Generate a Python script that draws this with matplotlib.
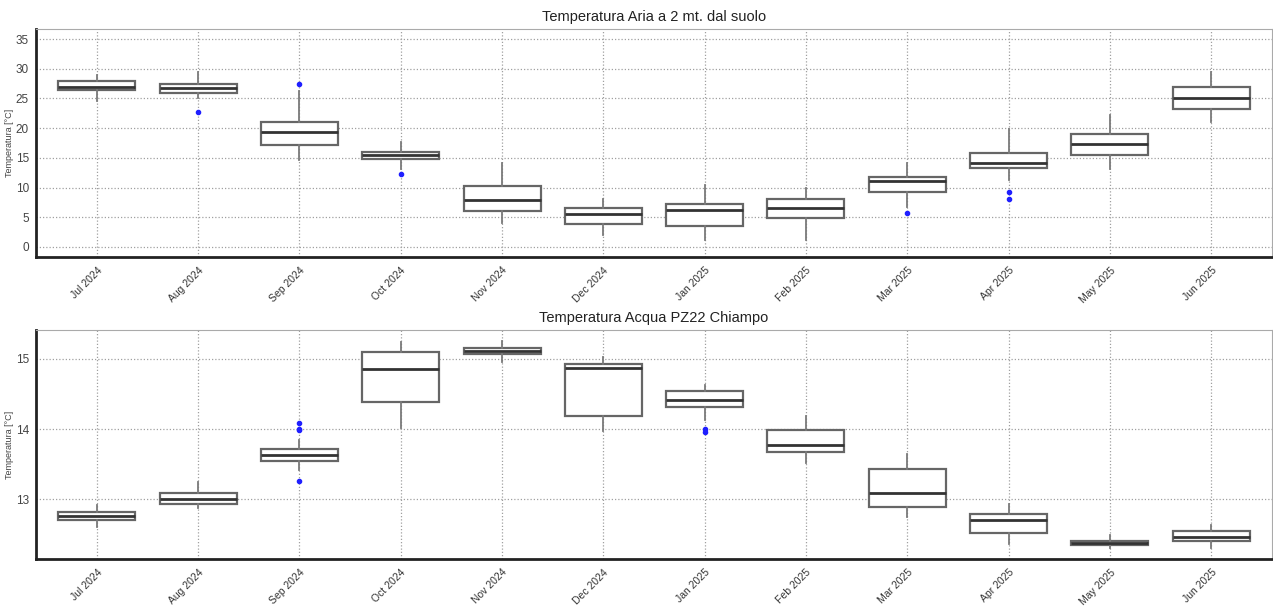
import matplotlib
matplotlib.use("Agg")
import matplotlib.pyplot as plt

plt.rcParams['font.family'] = ['Liberation Sans', 'DejaVu Sans']

months = ["Jul 2024", "Aug 2024", "Sep 2024", "Oct 2024", "Nov 2024", "Dec 2024",
          "Jan 2025", "Feb 2025", "Mar 2025", "Apr 2025", "May 2025", "Jun 2025"]

# Air temperature (top panel)
air_whislo = [24.5, 25.0, 14.6, 13.2, 4.1, 2.0, 1.1, 1.2, 6.7, 11.3, 13.2, 21.0]
air_q1     = [26.4, 25.9, 17.2, 14.75, 6.1, 3.8, 3.5, 4.9, 9.25, 13.3, 15.4, 23.2]
air_med    = [27.0, 26.7, 19.3, 15.5, 7.9, 5.5, 6.3, 6.5, 11.05, 14.2, 17.3, 25.1]
air_q3     = [28.0, 27.5, 21.1, 16.0, 10.2, 6.6, 7.2, 8.1, 11.7, 15.9, 19.1, 27.0]
air_whishi = [28.9, 29.5, 26.3, 17.7, 14.1, 8.0, 10.5, 10.0, 14.1, 19.8, 22.3, 29.5]
air_fliers = [[], [22.7], [27.5], [12.2], [], [], [], [], [5.7], [9.3, 8.0], [], []]

# Water temperature (bottom panel)
wat_whislo = [12.61, 12.87, 13.42, 14.01, 14.96, 13.97, 14.13, 13.52, 12.75, 12.36, 12.30, 12.30]
wat_q1     = [12.705, 12.94, 13.545, 14.38, 15.07, 14.19, 14.32, 13.68, 12.89, 12.52, 12.345, 12.40]
wat_med    = [12.76, 13.005, 13.63, 14.85, 15.11, 14.87, 14.42, 13.78, 13.09, 12.70, 12.38, 12.47]
wat_q3     = [12.815, 13.095, 13.72, 15.09, 15.15, 14.93, 14.54, 13.99, 13.43, 12.79, 12.41, 12.55]
wat_whishi = [12.92, 13.25, 13.85, 15.24, 15.26, 15.02, 14.63, 14.18, 13.64, 12.93, 12.49, 12.64]
wat_fliers = [[], [], [14.08, 14.0, 13.98, 13.26], [], [], [], [14.0, 13.96], [], [], [], [], []]


def make_stats(lo, q1, med, q3, hi, fl):
    return [dict(whislo=a, q1=b, med=c, q3=d, whishi=e, fliers=f, label=m)
            for a, b, c, d, e, f, m in zip(lo, q1, med, q3, hi, fl, months)]


fig = plt.figure(figsize=(12.73, 6.07), dpi=100)
W, H = 1273, 607
ax1 = fig.add_axes([36 / W, 1 - 257 / H, (1272 - 36) / W, (257 - 29) / H])
ax2 = fig.add_axes([36 / W, 1 - 559 / H, (1272 - 36) / W, (559 - 330) / H])


def draw(ax, stats, title, ylim, yticks):
    pos = list(range(len(stats)))
    ax.bxp(stats, positions=pos, widths=0.76, showcaps=False, patch_artist=True,
           boxprops=dict(facecolor="white", edgecolor="#666666", linewidth=1.6),
           medianprops=dict(color="#333333", linewidth=2.0),
           whiskerprops=dict(color="#7a7a7a", linewidth=1.3),
           flierprops=dict(marker="o", markersize=3.0, markerfacecolor="#1f1fff",
                           markeredgecolor="#1f1fff", linestyle="none"),
           zorder=3)
    ax.set_xlim(-0.6, len(stats) - 0.4)
    ax.set_ylim(*ylim)
    ax.set_yticks(yticks)
    ax.set_xticks(pos)
    ax.set_xticklabels(months, rotation=45, ha="right", rotation_mode="anchor",
                       fontsize=7.5, color="#333333")
    ax.tick_params(axis="y", labelsize=8.5, colors="#444444", length=0, pad=5)
    ax.tick_params(axis="x", length=0, pad=6)
    ax.grid(True, linestyle=(0, (1, 1.6)), color="#a0a0a0", linewidth=0.9, zorder=0)
    ax.set_axisbelow(True)
    ax.set_title(title, fontsize=10.5, color="#222222", pad=6)
    ax.set_ylabel("Temperatura [°C]", fontsize=6.5, color="#444444", labelpad=1)
    for s in ["left", "bottom"]:
        ax.spines[s].set_color("#222222")
        ax.spines[s].set_linewidth(2.0)
    for s in ["top", "right"]:
        ax.spines[s].set_color("#aaaaaa")
        ax.spines[s].set_linewidth(0.8)


draw(ax1, make_stats(air_whislo, air_q1, air_med, air_q3, air_whishi, air_fliers),
     "Temperatura Aria a 2 mt. dal suolo", (-1.7, 36.7), list(range(0, 36, 5)))
draw(ax2, make_stats(wat_whislo, wat_q1, wat_med, wat_q3, wat_whishi, wat_fliers),
     "Temperatura Acqua PZ22 Chiampo", (12.15, 15.41), [13, 14, 15])

fig.savefig("out.png", dpi=100)
